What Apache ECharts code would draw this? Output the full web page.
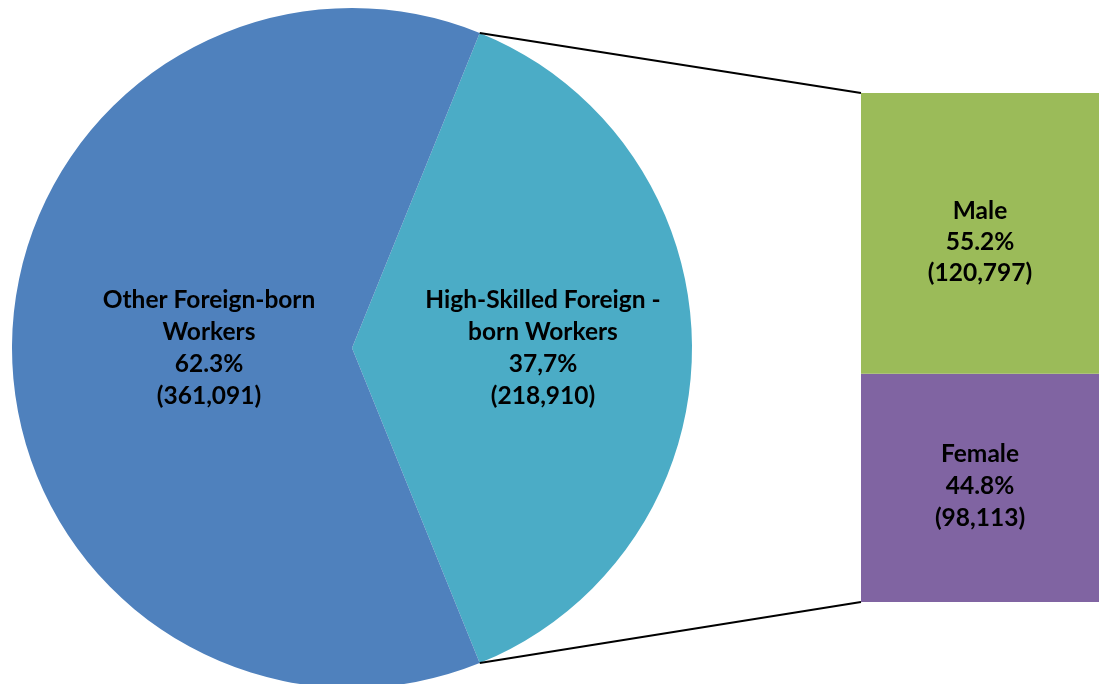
<!DOCTYPE html>
<html>
<head>
<meta charset="utf-8">
<script src="https://cdn.jsdelivr.net/npm/echarts@6/dist/echarts.min.js"></script>
<style>
html,body{margin:0;padding:0;background:#fff;}
#chart{width:1099px;height:684px;}
</style>
</head>
<body>
<div id="chart"></div>
<script>
// ---- data ----
const pieNames = ['High-Skilled Foreign -\nborn Workers', 'Other Foreign-born\nWorkers'];
const pieValues = [218910, 361091];
const piePctLabels = ['37,7%', '62.3%'];
const pieColors = ['#4BACC6', '#4F81BD'];

const barNames = ['Male', 'Female'];
const barValues = [120797, 98113];
const barPctLabels = ['55.2%', '44.8%'];
const barColors = ['#9BBB59', '#8064A2'];

// ---- layout ----
const PIE_CENTER = [352, 348];
const PIE_R = 340;
const GRID = {left: 861, right: 0, top: 93, bottom: 82};

const fmt = n => n.toLocaleString('en-US');
const pieTotal = pieValues.reduce((a, b) => a + b, 0);
const halfAngle = pieValues[0] / pieTotal * 180;
const barTotal = barValues.reduce((a, b) => a + b, 0);

const chart = echarts.init(document.getElementById('chart'), null, {renderer: 'canvas'});
const labelFont = {fontFamily: 'Lato, "Open Sans", sans-serif', fontWeight: 'bold', fontSize: 24.5, color: '#000', lineHeight: 32};

const option = {
  animation: false,
  backgroundColor: '#fff',
  grid: {left: GRID.left, right: GRID.right, top: GRID.top, bottom: GRID.bottom},
  xAxis: {type: 'category', data: ['Gender'], show: false},
  yAxis: {type: 'value', min: 0, max: barTotal, show: false},
  series: [
    {
      type: 'pie',
      center: PIE_CENTER,
      radius: PIE_R,
      startAngle: halfAngle,
      clockwise: true,
      avoidLabelOverlap: false,
      itemStyle: {borderWidth: 0},
      label: Object.assign({
        show: true, position: 'inside',
        formatter: p => p.name + '\n' + piePctLabels[p.dataIndex] + '\n(' + fmt(p.value) + ')'
      }, labelFont),
      labelLayout: p => ({dx: p.dataIndex === 0 ? 9 : 15, dy: 0}),
      labelLine: {show: false},
      emphasis: {disabled: true},
      data: pieNames.map((n, i) => ({name: n, value: pieValues[i], itemStyle: {color: pieColors[i]}}))
    },
    {
      type: 'bar', stack: 'g', barWidth: '100%', name: barNames[1],
      data: [barValues[1]],
      itemStyle: {color: barColors[1]},
      label: Object.assign({show: true, position: 'inside', offset: [0, -2],
        formatter: p => barNames[1] + '\n' + barPctLabels[1] + '\n(' + fmt(p.value) + ')'}, labelFont)
    },
    {
      type: 'bar', stack: 'g', barWidth: '100%', name: barNames[0],
      data: [barValues[0]],
      itemStyle: {color: barColors[0]},
      label: Object.assign({show: true, position: 'inside', offset: [0, 9],
        formatter: p => barNames[0] + '\n' + barPctLabels[0] + '\n(' + fmt(p.value) + ')'}, labelFont, {lineHeight: 31})
    }
  ]
};
chart.setOption(option);

// connector lines computed from pie geometry and bar scale
const rad = halfAngle * Math.PI / 180;
const pTop = [PIE_CENTER[0] + PIE_R * Math.cos(rad), PIE_CENTER[1] - PIE_R * Math.sin(rad)];
const pBot = [PIE_CENTER[0] + PIE_R * Math.cos(rad), PIE_CENTER[1] + PIE_R * Math.sin(rad)];
const yTop = chart.convertToPixel({yAxisIndex: 0}, barTotal);
const yBot = chart.convertToPixel({yAxisIndex: 0}, 0);
chart.setOption({
  graphic: [
    {type: 'line', shape: {x1: pTop[0], y1: pTop[1], x2: GRID.left, y2: yTop}, style: {stroke: '#000', lineWidth: 2}, z: 10},
    {type: 'line', shape: {x1: pBot[0], y1: pBot[1], x2: GRID.left, y2: yBot}, style: {stroke: '#000', lineWidth: 2}, z: 10}
  ]
});
</script>
</body>
</html>
